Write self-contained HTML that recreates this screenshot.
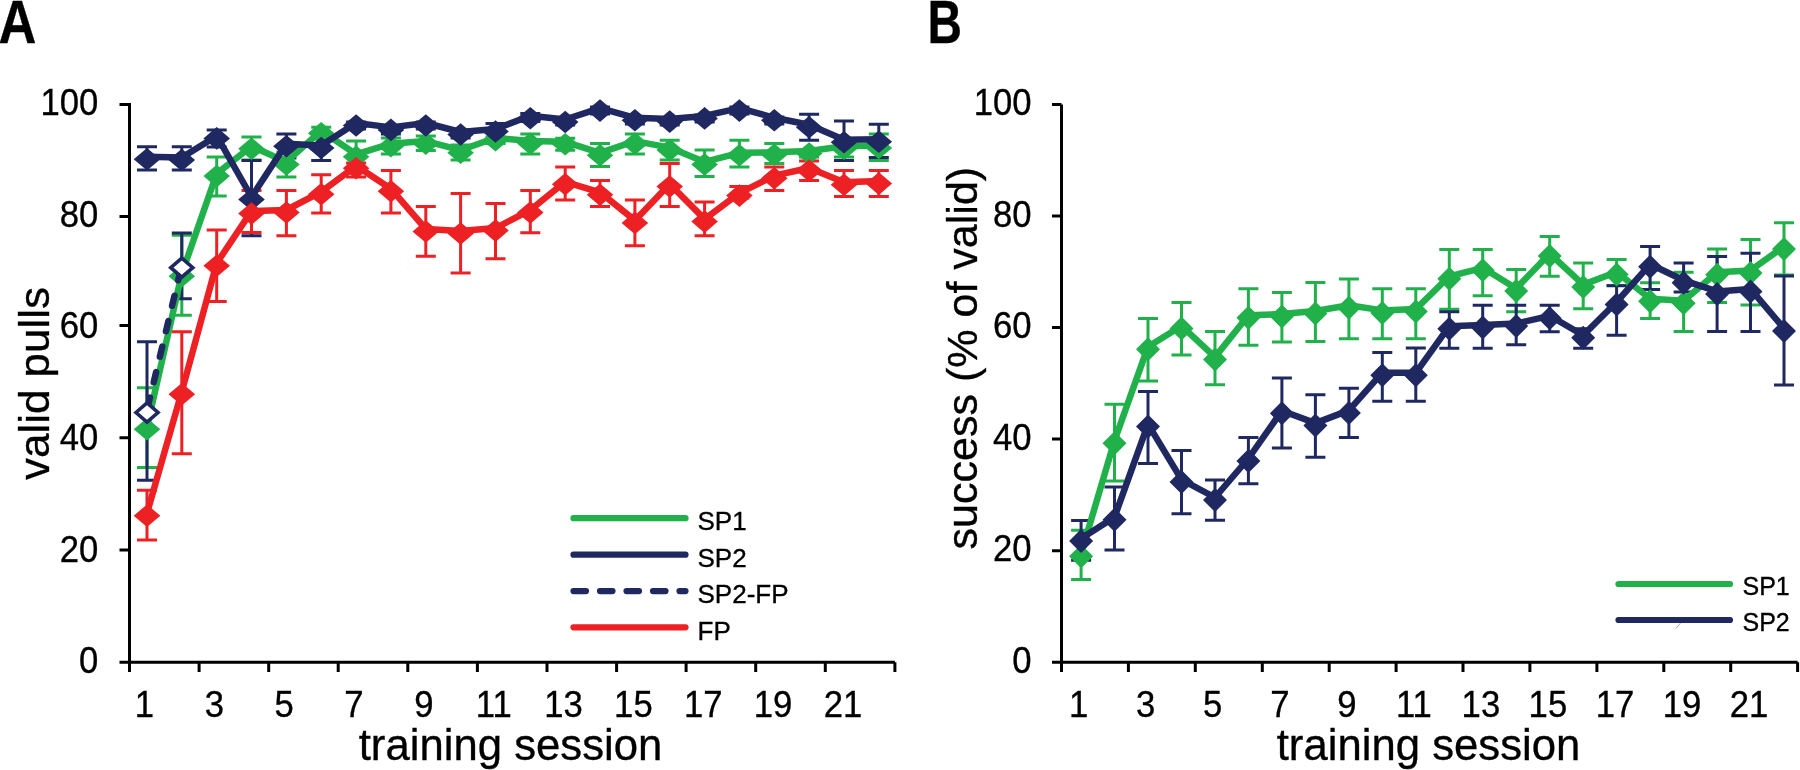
<!DOCTYPE html>
<html><head><meta charset="utf-8"><style>
html,body{margin:0;padding:0;background:#fff;}
body{width:1800px;height:770px;overflow:hidden;font-family:"Liberation Sans",sans-serif;}
svg{display:block;will-change:transform;}
</style></head><body>
<svg width="1800" height="770" viewBox="0 0 1800 770">
<path d="M129.5,102.9V663.7M119.5,104.4H129.5M119.5,216.6H129.5M119.5,325.6H129.5M119.5,437.7H129.5M119.5,550H129.5M119.5,662.2H894.9" fill="none" stroke="#000" stroke-width="3"/>
<path d="M129.5,662.2V672M199.1,662.2V672M268.7,662.2V672M338.2,662.2V672M407.8,662.2V672M477.4,662.2V672M547.0,662.2V672M616.6,662.2V672M686.1,662.2V672M755.7,662.2V672M825.3,662.2V672M894.9,662.2V672" fill="none" stroke="#000" stroke-width="3"/>
<path d="M1061.5,104.4V663.8M1052,662.3H1061.5M1052,550.7H1061.5M1052,439.1H1061.5M1052,327.6H1061.5M1052,216.0H1061.5M1052,104.4H1061.5M1052,662.3H1797.6" fill="none" stroke="#000" stroke-width="3"/>
<path d="M1061.5,662.3V672M1128.4,662.3V672M1195.3,662.3V672M1262.3,662.3V672M1329.2,662.3V672M1396.1,662.3V672M1463.0,662.3V672M1529.9,662.3V672M1596.9,662.3V672M1663.8,662.3V672M1730.7,662.3V672M1797.6,662.3V672" fill="none" stroke="#000" stroke-width="3"/>
<text transform="translate(98.3,673.2) scale(0.925,1)" font-family="Liberation Sans, sans-serif" stroke="#000" stroke-width="0.35" font-size="37.5" text-anchor="end">0</text>
<text transform="translate(1031.6,673.0) scale(0.925,1)" font-family="Liberation Sans, sans-serif" stroke="#000" stroke-width="0.35" font-size="37.5" text-anchor="end">0</text>
<text transform="translate(98.3,561.6) scale(0.925,1)" font-family="Liberation Sans, sans-serif" stroke="#000" stroke-width="0.35" font-size="37.5" text-anchor="end">20</text>
<text transform="translate(1031.6,561.4) scale(0.925,1)" font-family="Liberation Sans, sans-serif" stroke="#000" stroke-width="0.35" font-size="37.5" text-anchor="end">20</text>
<text transform="translate(98.3,450.0) scale(0.925,1)" font-family="Liberation Sans, sans-serif" stroke="#000" stroke-width="0.35" font-size="37.5" text-anchor="end">40</text>
<text transform="translate(1031.6,449.8) scale(0.925,1)" font-family="Liberation Sans, sans-serif" stroke="#000" stroke-width="0.35" font-size="37.5" text-anchor="end">40</text>
<text transform="translate(98.3,338.4) scale(0.925,1)" font-family="Liberation Sans, sans-serif" stroke="#000" stroke-width="0.35" font-size="37.5" text-anchor="end">60</text>
<text transform="translate(1031.6,338.3) scale(0.925,1)" font-family="Liberation Sans, sans-serif" stroke="#000" stroke-width="0.35" font-size="37.5" text-anchor="end">60</text>
<text transform="translate(98.3,226.8) scale(0.925,1)" font-family="Liberation Sans, sans-serif" stroke="#000" stroke-width="0.35" font-size="37.5" text-anchor="end">80</text>
<text transform="translate(1031.6,226.7) scale(0.925,1)" font-family="Liberation Sans, sans-serif" stroke="#000" stroke-width="0.35" font-size="37.5" text-anchor="end">80</text>
<text transform="translate(98.3,115.2) scale(0.925,1)" font-family="Liberation Sans, sans-serif" stroke="#000" stroke-width="0.35" font-size="37.5" text-anchor="end">100</text>
<text transform="translate(1031.6,115.1) scale(0.925,1)" font-family="Liberation Sans, sans-serif" stroke="#000" stroke-width="0.35" font-size="37.5" text-anchor="end">100</text>
<text transform="translate(144.5,716.7) scale(0.925,1)" font-family="Liberation Sans, sans-serif" stroke="#000" stroke-width="0.35" font-size="37.5" text-anchor="middle">1</text>
<text transform="translate(1078.7,716.7) scale(0.925,1)" font-family="Liberation Sans, sans-serif" stroke="#000" stroke-width="0.35" font-size="37.5" text-anchor="middle">1</text>
<text transform="translate(214.3,716.7) scale(0.925,1)" font-family="Liberation Sans, sans-serif" stroke="#000" stroke-width="0.35" font-size="37.5" text-anchor="middle">3</text>
<text transform="translate(1145.7,716.7) scale(0.925,1)" font-family="Liberation Sans, sans-serif" stroke="#000" stroke-width="0.35" font-size="37.5" text-anchor="middle">3</text>
<text transform="translate(284.1,716.7) scale(0.925,1)" font-family="Liberation Sans, sans-serif" stroke="#000" stroke-width="0.35" font-size="37.5" text-anchor="middle">5</text>
<text transform="translate(1212.7,716.7) scale(0.925,1)" font-family="Liberation Sans, sans-serif" stroke="#000" stroke-width="0.35" font-size="37.5" text-anchor="middle">5</text>
<text transform="translate(354.0,716.7) scale(0.925,1)" font-family="Liberation Sans, sans-serif" stroke="#000" stroke-width="0.35" font-size="37.5" text-anchor="middle">7</text>
<text transform="translate(1279.8,716.7) scale(0.925,1)" font-family="Liberation Sans, sans-serif" stroke="#000" stroke-width="0.35" font-size="37.5" text-anchor="middle">7</text>
<text transform="translate(423.9,716.7) scale(0.925,1)" font-family="Liberation Sans, sans-serif" stroke="#000" stroke-width="0.35" font-size="37.5" text-anchor="middle">9</text>
<text transform="translate(1346.8,716.7) scale(0.925,1)" font-family="Liberation Sans, sans-serif" stroke="#000" stroke-width="0.35" font-size="37.5" text-anchor="middle">9</text>
<text transform="translate(493.7,716.7) scale(0.925,1)" font-family="Liberation Sans, sans-serif" stroke="#000" stroke-width="0.35" font-size="37.5" text-anchor="middle">11</text>
<text transform="translate(1413.9,716.7) scale(0.925,1)" font-family="Liberation Sans, sans-serif" stroke="#000" stroke-width="0.35" font-size="37.5" text-anchor="middle">11</text>
<text transform="translate(563.5,716.7) scale(0.925,1)" font-family="Liberation Sans, sans-serif" stroke="#000" stroke-width="0.35" font-size="37.5" text-anchor="middle">13</text>
<text transform="translate(1480.9,716.7) scale(0.925,1)" font-family="Liberation Sans, sans-serif" stroke="#000" stroke-width="0.35" font-size="37.5" text-anchor="middle">13</text>
<text transform="translate(633.4,716.7) scale(0.925,1)" font-family="Liberation Sans, sans-serif" stroke="#000" stroke-width="0.35" font-size="37.5" text-anchor="middle">15</text>
<text transform="translate(1547.9,716.7) scale(0.925,1)" font-family="Liberation Sans, sans-serif" stroke="#000" stroke-width="0.35" font-size="37.5" text-anchor="middle">15</text>
<text transform="translate(703.2,716.7) scale(0.925,1)" font-family="Liberation Sans, sans-serif" stroke="#000" stroke-width="0.35" font-size="37.5" text-anchor="middle">17</text>
<text transform="translate(1615.0,716.7) scale(0.925,1)" font-family="Liberation Sans, sans-serif" stroke="#000" stroke-width="0.35" font-size="37.5" text-anchor="middle">17</text>
<text transform="translate(773.1,716.7) scale(0.925,1)" font-family="Liberation Sans, sans-serif" stroke="#000" stroke-width="0.35" font-size="37.5" text-anchor="middle">19</text>
<text transform="translate(1682.0,716.7) scale(0.925,1)" font-family="Liberation Sans, sans-serif" stroke="#000" stroke-width="0.35" font-size="37.5" text-anchor="middle">19</text>
<text transform="translate(843.0,716.7) scale(0.925,1)" font-family="Liberation Sans, sans-serif" stroke="#000" stroke-width="0.35" font-size="37.5" text-anchor="middle">21</text>
<text transform="translate(1749.1,716.7) scale(0.925,1)" font-family="Liberation Sans, sans-serif" stroke="#000" stroke-width="0.35" font-size="37.5" text-anchor="middle">21</text>
<text x="510.5" y="760" font-family="Liberation Sans, sans-serif" stroke="#000" stroke-width="0.35" font-size="43.7" text-anchor="middle">training session</text>
<text x="1428.5" y="760.4" font-family="Liberation Sans, sans-serif" stroke="#000" stroke-width="0.35" font-size="43.7" text-anchor="middle">training session</text>
<text transform="translate(49.4,383.5) rotate(-90) scale(1.04,1)" x="0" y="0" font-family="Liberation Sans, sans-serif" stroke="#000" stroke-width="0.35" font-size="42.3" text-anchor="middle">valid pulls</text>
<text transform="translate(977,358.2) rotate(-90) scale(1.03,1)" x="0" y="0" font-family="Liberation Sans, sans-serif" stroke="#000" stroke-width="0.35" font-size="41.8" text-anchor="middle">success (% of valid)</text>
<text transform="translate(-1.6,42.6) scale(0.86,1)" font-family="Liberation Sans, sans-serif" stroke="#000" stroke-width="0.35" font-weight="bold" font-size="61">A</text>
<text transform="translate(927.5,42.9) scale(0.77,1)" font-family="Liberation Sans, sans-serif" stroke="#000" stroke-width="0.35" font-weight="bold" font-size="62">B</text>
<path d="M147.0,387.8V467.4M137.0,387.8H157.0M137.0,467.4H157.0M181.8,235.2V315.2M171.8,235.2H191.8M171.8,315.2H191.8M216.7,157.1V196.1M206.7,157.1H226.7M206.7,196.1H226.7M251.5,137.1V160.0M241.5,137.1H261.5M241.5,160.0H261.5M286.4,152.0V176.9M276.4,152.0H296.4M276.4,176.9H296.4M321.2,127.3V139.0M311.2,127.3H331.2M311.2,139.0H331.2M356.1,141.0V170.0M346.1,141.0H366.1M346.1,170.0H366.1M390.9,138.0V154.0M380.9,138.0H400.9M380.9,154.0H400.9M425.8,136.0V150.6M415.8,136.0H435.8M415.8,150.6H435.8M460.6,145.0V160.0M450.6,145.0H470.6M450.6,160.0H470.6M495.5,137.0V143.5M485.5,137.0H505.5M485.5,143.5H505.5M530.3,134.0V154.0M520.3,134.0H540.3M520.3,154.0H540.3M565.2,138.3V150.3M555.2,138.3H575.2M555.2,150.3H575.2M600.0,143.6V166.5M590.0,143.6H610.0M590.0,166.5H610.0M634.9,134.0V154.0M624.9,134.0H644.9M624.9,154.0H644.9M669.7,140.3V160.0M659.7,140.3H679.7M659.7,160.0H679.7M704.6,150.1V176.6M694.6,150.1H714.6M694.6,176.6H714.6M739.4,140.3V167.0M729.4,140.3H749.4M729.4,167.0H749.4M774.3,143.6V163.6M764.3,143.6H784.3M764.3,163.6H784.3M809.1,150.0V157.0M799.1,150.0H819.1M799.1,157.0H819.1M844.0,141.0V157.0M834.0,141.0H854.0M834.0,157.0H854.0M878.8,134.0V160.5M868.8,134.0H888.8M868.8,160.5H888.8" fill="none" stroke="#21B14B" stroke-width="3"/>
<path d="M147.0,146.8V170.1M137.0,146.8H157.0M137.0,170.1H157.0M181.8,146.8V170.1M171.8,146.8H191.8M171.8,170.1H191.8M216.7,130.1V147.0M206.7,130.1H226.7M206.7,147.0H226.7M251.5,160.4V235.7M241.5,160.4H261.5M241.5,235.7H261.5M286.4,134.0V158.0M276.4,134.0H296.4M276.4,158.0H296.4M321.2,136.0V160.5M311.2,136.0H331.2M311.2,160.5H331.2M356.1,122.0V129.0M346.1,122.0H366.1M346.1,129.0H366.1M390.9,126.0V134.0M380.9,126.0H400.9M380.9,134.0H400.9M425.8,122.0V129.0M415.8,122.0H435.8M415.8,129.0H435.8M460.6,131.0V138.0M450.6,131.0H470.6M450.6,138.0H470.6M495.5,123.5V139.0M485.5,123.5H505.5M485.5,139.0H505.5M530.3,113.6V121.5M520.3,113.6H540.3M520.3,121.5H540.3M565.2,119.0V125.0M555.2,119.0H575.2M555.2,125.0H575.2M600.0,107.0V114.0M590.0,107.0H610.0M590.0,114.0H610.0M634.9,117.0V124.0M624.9,117.0H644.9M624.9,124.0H644.9M669.7,118.0V125.0M659.7,118.0H679.7M659.7,125.0H679.7M704.6,115.0V122.0M694.6,115.0H714.6M694.6,122.0H714.6M739.4,107.0V114.0M729.4,107.0H749.4M729.4,114.0H749.4M774.3,117.0V124.0M764.3,117.0H784.3M764.3,124.0H784.3M809.1,114.3V140.3M799.1,114.3H819.1M799.1,140.3H819.1M844.0,121.0V160.5M834.0,121.0H854.0M834.0,160.5H854.0M878.8,124.2V157.4M868.8,124.2H888.8M868.8,157.4H888.8" fill="none" stroke="#1F2861" stroke-width="3"/>
<path d="M147.0,341.7V480.2M137.0,341.7H157.0M137.0,480.2H157.0M181.8,233.1V298.8M171.8,233.1H191.8M171.8,298.8H191.8" fill="none" stroke="#1F2861" stroke-width="3"/>
<path d="M147.0,490.3V540.0M137.0,490.3H157.0M137.0,540.0H157.0M181.8,331.8V453.8M171.8,331.8H191.8M171.8,453.8H191.8M216.7,229.9V301.4M206.7,229.9H226.7M206.7,301.4H226.7M251.5,190.4V232.5M241.5,190.4H261.5M241.5,232.5H261.5M286.4,190.4V235.8M276.4,190.4H296.4M276.4,235.8H296.4M321.2,174.8V213.0M311.2,174.8H331.2M311.2,213.0H331.2M356.1,163.0V177.1M346.1,163.0H366.1M346.1,177.1H366.1M390.9,170.4V213.0M380.9,170.4H400.9M380.9,213.0H400.9M425.8,206.6V256.3M415.8,206.6H435.8M415.8,256.3H435.8M460.6,193.4V272.9M450.6,193.4H470.6M450.6,272.9H470.6M495.5,203.4V258.7M485.5,203.4H505.5M485.5,258.7H505.5M530.3,190.4V232.7M520.3,190.4H540.3M520.3,232.7H540.3M565.2,167.1V200.0M555.2,167.1H575.2M555.2,200.0H575.2M600.0,180.4V206.4M590.0,180.4H610.0M590.0,206.4H610.0M634.9,200.0V245.7M624.9,200.0H644.9M624.9,245.7H644.9M669.7,163.6V206.5M659.7,163.6H679.7M659.7,206.5H679.7M704.6,202.0V235.8M694.6,202.0H714.6M694.6,235.8H714.6M739.4,186.6V198.0M729.4,186.6H749.4M729.4,198.0H749.4M774.3,167.0V190.4M764.3,167.0H784.3M764.3,190.4H784.3M809.1,161.0V180.4M799.1,161.0H819.1M799.1,180.4H819.1M844.0,170.5V196.5M834.0,170.5H854.0M834.0,196.5H854.0M878.8,170.5V196.5M868.8,170.5H888.8M868.8,196.5H888.8" fill="none" stroke="#ED2024" stroke-width="3"/>
<path d="M147.0,426.7 L181.8,273.7 L216.7,173.6 L251.5,146.3 L286.4,161.9 L321.2,130.7 L356.1,154.3 L390.9,143.7 L425.8,141.1 L460.6,150.2 L495.5,137.8 L530.3,141.1 L565.2,141.8 L600.0,152.8 L634.9,141.1 L669.7,147.6 L704.6,161.9 L739.4,152.8 L774.3,152.3 L809.1,151.0 L844.0,146.3 L878.8,145.5" fill="none" stroke="#21B14B" stroke-width="6.5" stroke-linejoin="round"/>
<path d="M133.7,429.2L147.0,417.9L160.3,429.2L147.0,440.5ZM168.5,276.2L181.8,264.9L195.1,276.2L181.8,287.5ZM203.4,176.1L216.7,164.8L230.0,176.1L216.7,187.4ZM238.2,148.8L251.5,137.5L264.8,148.8L251.5,160.1ZM273.1,164.4L286.4,153.1L299.7,164.4L286.4,175.7ZM307.9,133.2L321.2,121.9L334.5,133.2L321.2,144.5ZM342.8,156.8L356.1,145.5L369.4,156.8L356.1,168.1ZM377.6,146.2L390.9,134.9L404.2,146.2L390.9,157.5ZM412.5,143.6L425.8,132.3L439.1,143.6L425.8,154.9ZM447.3,152.7L460.6,141.4L473.9,152.7L460.6,164.0ZM482.2,140.3L495.5,129.0L508.8,140.3L495.5,151.6ZM517.0,143.6L530.3,132.3L543.6,143.6L530.3,154.9ZM551.9,144.3L565.2,133.0L578.5,144.3L565.2,155.6ZM586.7,155.3L600.0,144.0L613.3,155.3L600.0,166.6ZM621.6,143.6L634.9,132.3L648.2,143.6L634.9,154.9ZM656.4,150.1L669.7,138.8L683.0,150.1L669.7,161.4ZM691.3,164.4L704.6,153.1L717.9,164.4L704.6,175.7ZM726.1,155.3L739.4,144.0L752.7,155.3L739.4,166.6ZM761.0,154.8L774.3,143.5L787.6,154.8L774.3,166.1ZM795.8,153.5L809.1,142.2L822.4,153.5L809.1,164.8ZM830.7,148.8L844.0,137.5L857.3,148.8L844.0,160.1ZM865.5,148.0L878.8,136.7L892.1,148.0L878.8,159.3Z" fill="#21B14B"/>
<path d="M147.0,156.7 L181.8,157.5 L216.7,135.9 L251.5,197.0 L286.4,143.7 L321.2,145.5 L356.1,123.0 L390.9,127.4 L425.8,123.0 L460.6,132.0 L495.5,129.0 L530.3,115.7 L565.2,119.5 L600.0,108.1 L634.9,117.8 L669.7,119.1 L704.6,115.9 L739.4,108.1 L774.3,117.8 L809.1,124.8 L844.0,139.8 L878.8,139.3" fill="none" stroke="#1F2861" stroke-width="6.5" stroke-linejoin="round"/>
<path d="M133.7,159.2L147.0,147.9L160.3,159.2L147.0,170.5ZM168.5,160.0L181.8,148.7L195.1,160.0L181.8,171.3ZM203.4,138.4L216.7,127.1L230.0,138.4L216.7,149.7ZM238.2,199.5L251.5,188.2L264.8,199.5L251.5,210.8ZM273.1,146.2L286.4,134.9L299.7,146.2L286.4,157.5ZM307.9,148.0L321.2,136.7L334.5,148.0L321.2,159.3ZM342.8,125.5L356.1,114.2L369.4,125.5L356.1,136.8ZM377.6,129.9L390.9,118.6L404.2,129.9L390.9,141.2ZM412.5,125.5L425.8,114.2L439.1,125.5L425.8,136.8ZM447.3,134.5L460.6,123.2L473.9,134.5L460.6,145.8ZM482.2,131.5L495.5,120.2L508.8,131.5L495.5,142.8ZM517.0,118.2L530.3,106.9L543.6,118.2L530.3,129.5ZM551.9,122.0L565.2,110.7L578.5,122.0L565.2,133.3ZM586.7,110.6L600.0,99.3L613.3,110.6L600.0,121.9ZM621.6,120.3L634.9,109.0L648.2,120.3L634.9,131.6ZM656.4,121.6L669.7,110.3L683.0,121.6L669.7,132.9ZM691.3,118.4L704.6,107.1L717.9,118.4L704.6,129.7ZM726.1,110.6L739.4,99.3L752.7,110.6L739.4,121.9ZM761.0,120.3L774.3,109.0L787.6,120.3L774.3,131.6ZM795.8,127.3L809.1,116.0L822.4,127.3L809.1,138.6ZM830.7,142.3L844.0,131.0L857.3,142.3L844.0,153.6ZM865.5,141.8L878.8,130.5L892.1,141.8L878.8,153.1Z" fill="#1F2861"/>
<path d="M147.0,410.0 L181.8,265.2" fill="none" stroke="#1F2861" stroke-width="6.5" stroke-linecap="round" stroke-dasharray="10.3 15.9" stroke-dashoffset="23.75"/>
<path d="M136.0,412.5L147.0,403.0L158.0,412.5L147.0,422.0Z" fill="#fff" stroke="#1F2861" stroke-width="3.6"/>
<path d="M170.8,267.7L181.8,258.2L192.8,267.7L181.8,277.2Z" fill="#fff" stroke="#1F2861" stroke-width="3.6"/>
<path d="M147.0,513.2 L181.8,391.7 L216.7,263.2 L251.5,211.1 L286.4,210.0 L321.2,191.8 L356.1,165.8 L390.9,188.7 L425.8,229.0 L460.6,231.0 L495.5,228.1 L530.3,210.0 L565.2,181.8 L600.0,192.3 L634.9,220.4 L669.7,184.0 L704.6,219.1 L739.4,193.1 L774.3,175.7 L809.1,168.0 L844.0,182.3 L878.8,181.1" fill="none" stroke="#ED2024" stroke-width="6.5" stroke-linejoin="round"/>
<path d="M133.7,515.7L147.0,504.4L160.3,515.7L147.0,527.0ZM168.5,394.2L181.8,382.9L195.1,394.2L181.8,405.5ZM203.4,265.7L216.7,254.4L230.0,265.7L216.7,277.0ZM238.2,213.6L251.5,202.3L264.8,213.6L251.5,224.9ZM273.1,212.5L286.4,201.2L299.7,212.5L286.4,223.8ZM307.9,194.3L321.2,183.0L334.5,194.3L321.2,205.6ZM342.8,168.3L356.1,157.0L369.4,168.3L356.1,179.6ZM377.6,191.2L390.9,179.9L404.2,191.2L390.9,202.5ZM412.5,231.5L425.8,220.2L439.1,231.5L425.8,242.8ZM447.3,233.5L460.6,222.2L473.9,233.5L460.6,244.8ZM482.2,230.6L495.5,219.3L508.8,230.6L495.5,241.9ZM517.0,212.5L530.3,201.2L543.6,212.5L530.3,223.8ZM551.9,184.3L565.2,173.0L578.5,184.3L565.2,195.6ZM586.7,194.8L600.0,183.5L613.3,194.8L600.0,206.1ZM621.6,222.9L634.9,211.6L648.2,222.9L634.9,234.2ZM656.4,186.5L669.7,175.2L683.0,186.5L669.7,197.8ZM691.3,221.6L704.6,210.3L717.9,221.6L704.6,232.9ZM726.1,195.6L739.4,184.3L752.7,195.6L739.4,206.9ZM761.0,178.2L774.3,166.9L787.6,178.2L774.3,189.5ZM795.8,170.5L809.1,159.2L822.4,170.5L809.1,181.8ZM830.7,184.8L844.0,173.5L857.3,184.8L844.0,196.1ZM865.5,183.6L878.8,172.3L892.1,183.6L878.8,194.9Z" fill="#ED2024"/>
<path d="M1081.1,530.2V579.4M1071.1,530.2H1091.1M1071.1,579.4H1091.1M1114.5,404.3V480.9M1104.5,404.3H1124.5M1104.5,480.9H1124.5M1148.0,318.6V380.9M1138.0,318.6H1158.0M1138.0,380.9H1158.0M1181.5,302.5V354.9M1171.5,302.5H1191.5M1171.5,354.9H1191.5M1215.0,331.6V384.8M1205.0,331.6H1225.0M1205.0,384.8H1225.0M1248.4,288.7V345.3M1238.4,288.7H1258.4M1238.4,345.3H1258.4M1281.9,292.4V341.9M1271.9,292.4H1291.9M1271.9,341.9H1291.9M1315.4,282.5V341.4M1305.4,282.5H1325.4M1305.4,341.4H1325.4M1348.9,279.1V338.8M1338.9,279.1H1358.9M1338.9,338.8H1358.9M1382.3,288.7V338.8M1372.3,288.7H1392.3M1372.3,338.8H1392.3M1415.8,288.7V338.8M1405.8,288.7H1425.8M1405.8,338.8H1425.8M1449.3,249.5V309.2M1439.3,249.5H1459.3M1439.3,309.2H1459.3M1482.7,249.5V295.7M1472.7,249.5H1492.7M1472.7,295.7H1492.7M1516.2,269.5V311.8M1506.2,269.5H1526.2M1506.2,311.8H1526.2M1549.7,236.5V276.2M1539.7,236.5H1559.7M1539.7,276.2H1559.7M1583.2,263.0V308.7M1573.2,263.0H1593.2M1573.2,308.7H1593.2M1616.6,259.6V285.5M1606.6,259.6H1626.6M1606.6,285.5H1626.6M1650.1,282.8V318.6M1640.1,282.8H1660.1M1640.1,318.6H1660.1M1683.6,272.2V331.4M1673.6,272.2H1693.6M1673.6,331.4H1693.6M1717.1,249.0V302.5M1707.1,249.0H1727.1M1707.1,302.5H1727.1M1750.5,239.6V305.0M1740.5,239.6H1760.5M1740.5,305.0H1760.5M1784.0,222.8V275.0M1774.0,222.8H1794.0M1774.0,275.0H1794.0" fill="none" stroke="#21B14B" stroke-width="3"/>
<path d="M1081.1,520.5V560.2M1071.1,520.5H1091.1M1071.1,560.2H1091.1M1114.5,487.0V550.1M1104.5,487.0H1124.5M1104.5,550.1H1124.5M1148.0,391.5V463.5M1138.0,391.5H1158.0M1138.0,463.5H1158.0M1181.5,450.6V513.8M1171.5,450.6H1191.5M1171.5,513.8H1191.5M1215.0,480.0V520.3M1205.0,480.0H1225.0M1205.0,520.3H1225.0M1248.4,437.5V483.7M1238.4,437.5H1258.4M1238.4,483.7H1258.4M1281.9,378.0V448.0M1271.9,378.0H1291.9M1271.9,448.0H1291.9M1315.4,394.7V457.2M1305.4,394.7H1325.4M1305.4,457.2H1325.4M1348.9,388.2V437.5M1338.9,388.2H1358.9M1338.9,437.5H1358.9M1382.3,352.6V401.2M1372.3,352.6H1392.3M1372.3,401.2H1392.3M1415.8,347.9V401.3M1405.8,347.9H1425.8M1405.8,401.3H1425.8M1449.3,311.8V348.2M1439.3,311.8H1459.3M1439.3,348.2H1459.3M1482.7,305.3V348.2M1472.7,305.3H1492.7M1472.7,348.2H1492.7M1516.2,305.3V344.8M1506.2,305.3H1526.2M1506.2,344.8H1526.2M1549.7,305.3V331.8M1539.7,305.3H1559.7M1539.7,331.8H1559.7M1583.2,328.7V348.2M1573.2,328.7H1593.2M1573.2,348.2H1593.2M1616.6,285.8V335.3M1606.6,285.8H1626.6M1606.6,335.3H1626.6M1650.1,246.5V289.5M1640.1,246.5H1660.1M1640.1,289.5H1660.1M1683.6,263.1V292.0M1673.6,263.1H1693.6M1673.6,292.0H1693.6M1717.1,256.4V331.4M1707.1,256.4H1727.1M1707.1,331.4H1727.1M1750.5,253.2V331.4M1740.5,253.2H1760.5M1740.5,331.4H1760.5M1784.0,276.0V385.1M1774.0,276.0H1794.0M1774.0,385.1H1794.0" fill="none" stroke="#1F2861" stroke-width="3"/>
<path d="M1081.1,553.8 L1114.5,440.7 L1148.0,346.7 L1181.5,325.9 L1215.0,357.1 L1248.4,315.2 L1281.9,314.1 L1315.4,311.0 L1348.9,305.2 L1382.3,310.4 L1415.8,309.1 L1449.3,276.3 L1482.7,267.8 L1516.2,288.5 L1549.7,253.5 L1583.2,284.6 L1616.6,272.0 L1650.1,298.8 L1683.6,300.8 L1717.1,272.2 L1750.5,270.4 L1784.0,246.5" fill="none" stroke="#21B14B" stroke-width="6.5" stroke-linejoin="round"/>
<path d="M1069.1,556.3L1081.1,544.3L1093.1,556.3L1081.1,568.3ZM1102.5,443.2L1114.5,431.2L1126.5,443.2L1114.5,455.2ZM1136.0,349.2L1148.0,337.2L1160.0,349.2L1148.0,361.2ZM1169.5,328.4L1181.5,316.4L1193.5,328.4L1181.5,340.4ZM1203.0,359.6L1215.0,347.6L1227.0,359.6L1215.0,371.6ZM1236.4,317.7L1248.4,305.7L1260.4,317.7L1248.4,329.7ZM1269.9,316.6L1281.9,304.6L1293.9,316.6L1281.9,328.6ZM1303.4,313.5L1315.4,301.5L1327.4,313.5L1315.4,325.5ZM1336.9,307.7L1348.9,295.7L1360.9,307.7L1348.9,319.7ZM1370.3,312.9L1382.3,300.9L1394.3,312.9L1382.3,324.9ZM1403.8,311.6L1415.8,299.6L1427.8,311.6L1415.8,323.6ZM1437.3,278.8L1449.3,266.8L1461.3,278.8L1449.3,290.8ZM1470.7,270.3L1482.7,258.3L1494.7,270.3L1482.7,282.3ZM1504.2,291.0L1516.2,279.0L1528.2,291.0L1516.2,303.0ZM1537.7,256.0L1549.7,244.0L1561.7,256.0L1549.7,268.0ZM1571.2,287.1L1583.2,275.1L1595.2,287.1L1583.2,299.1ZM1604.6,274.5L1616.6,262.5L1628.6,274.5L1616.6,286.5ZM1638.1,301.3L1650.1,289.3L1662.1,301.3L1650.1,313.3ZM1671.6,303.3L1683.6,291.3L1695.6,303.3L1683.6,315.3ZM1705.1,274.7L1717.1,262.7L1729.1,274.7L1717.1,286.7ZM1738.5,272.9L1750.5,260.9L1762.5,272.9L1750.5,284.9ZM1772.0,249.0L1784.0,237.0L1796.0,249.0L1784.0,261.0Z" fill="#21B14B"/>
<path d="M1081.1,538.6 L1114.5,517.2 L1148.0,424.1 L1181.5,479.6 L1215.0,497.5 L1248.4,458.5 L1281.9,410.8 L1315.4,423.1 L1348.9,410.4 L1382.3,372.7 L1415.8,372.8 L1449.3,326.2 L1482.7,324.9 L1516.2,323.6 L1549.7,315.8 L1583.2,335.3 L1616.6,302.0 L1650.1,264.3 L1683.6,280.3 L1717.1,291.4 L1750.5,288.9 L1784.0,328.4" fill="none" stroke="#1F2861" stroke-width="6.5" stroke-linejoin="round"/>
<path d="M1069.1,541.1L1081.1,529.1L1093.1,541.1L1081.1,553.1ZM1102.5,519.7L1114.5,507.7L1126.5,519.7L1114.5,531.7ZM1136.0,426.6L1148.0,414.6L1160.0,426.6L1148.0,438.6ZM1169.5,482.1L1181.5,470.1L1193.5,482.1L1181.5,494.1ZM1203.0,500.0L1215.0,488.0L1227.0,500.0L1215.0,512.0ZM1236.4,461.0L1248.4,449.0L1260.4,461.0L1248.4,473.0ZM1269.9,413.3L1281.9,401.3L1293.9,413.3L1281.9,425.3ZM1303.4,425.6L1315.4,413.6L1327.4,425.6L1315.4,437.6ZM1336.9,412.9L1348.9,400.9L1360.9,412.9L1348.9,424.9ZM1370.3,375.2L1382.3,363.2L1394.3,375.2L1382.3,387.2ZM1403.8,375.3L1415.8,363.3L1427.8,375.3L1415.8,387.3ZM1437.3,328.7L1449.3,316.7L1461.3,328.7L1449.3,340.7ZM1470.7,327.4L1482.7,315.4L1494.7,327.4L1482.7,339.4ZM1504.2,326.1L1516.2,314.1L1528.2,326.1L1516.2,338.1ZM1537.7,318.3L1549.7,306.3L1561.7,318.3L1549.7,330.3ZM1571.2,337.8L1583.2,325.8L1595.2,337.8L1583.2,349.8ZM1604.6,304.5L1616.6,292.5L1628.6,304.5L1616.6,316.5ZM1638.1,266.8L1650.1,254.8L1662.1,266.8L1650.1,278.8ZM1671.6,282.8L1683.6,270.8L1695.6,282.8L1683.6,294.8ZM1705.1,293.9L1717.1,281.9L1729.1,293.9L1717.1,305.9ZM1738.5,291.4L1750.5,279.4L1762.5,291.4L1750.5,303.4ZM1772.0,330.9L1784.0,318.9L1796.0,330.9L1784.0,342.9Z" fill="#1F2861"/>
<path d="M573.5,518.2H685.5" stroke="#21B14B" stroke-width="6.2" stroke-linecap="round"/>
<text x="697.5" y="530.4" font-family="Liberation Sans, sans-serif" stroke="#000" stroke-width="0.35" font-size="26">SP1</text>
<path d="M573.5,554.7H685.5" stroke="#1F2861" stroke-width="6.2" stroke-linecap="round"/>
<text x="697.5" y="566.9" font-family="Liberation Sans, sans-serif" stroke="#000" stroke-width="0.35" font-size="26">SP2</text>
<path d="M573.5,591.1H685.5" stroke="#1F2861" stroke-width="6.2" stroke-linecap="round" stroke-dasharray="12.5 14"/>
<text x="697.5" y="603.3" font-family="Liberation Sans, sans-serif" stroke="#000" stroke-width="0.35" font-size="26">SP2-FP</text>
<path d="M573.5,627.3H685.5" stroke="#ED2024" stroke-width="6.2" stroke-linecap="round"/>
<text x="697.5" y="639.5" font-family="Liberation Sans, sans-serif" stroke="#000" stroke-width="0.35" font-size="26">FP</text>
<path d="M1618.5,584H1730" stroke="#21B14B" stroke-width="6.2" stroke-linecap="round"/>
<text x="1742.5" y="595.0" font-family="Liberation Sans, sans-serif" stroke="#000" stroke-width="0.35" font-size="25">SP1</text>
<path d="M1618.5,620H1730" stroke="#1F2861" stroke-width="6.2" stroke-linecap="round"/>
<text x="1742.5" y="631.0" font-family="Liberation Sans, sans-serif" stroke="#000" stroke-width="0.35" font-size="25">SP2</text>
<path d="M1680.5,623L1676,628.5" stroke="#1F2861" stroke-width="0.9" opacity="0.45"/>
</svg>
</body></html>
